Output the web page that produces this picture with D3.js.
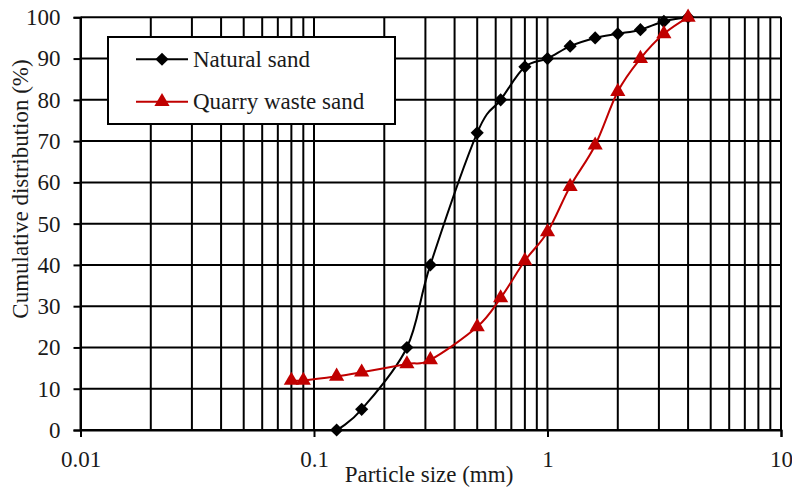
<!DOCTYPE html>
<html><head><meta charset="utf-8">
<script src="https://cdn.jsdelivr.net/npm/d3@7"></script>
<style>
html,body{margin:0;padding:0;background:#fff;}
svg{display:block;}
text{font-family:"Liberation Serif","Times New Roman",serif;fill:#1a1a1a;}
</style></head>
<body>
<script>
const naturalSize = [0.125,0.16,0.25,0.315,0.5,0.63,0.8,1,1.25,1.6,2,2.5,3.15,4];
const naturalPass = [0,5,20,40,72,80,88,90,93,95,96,97,99,100];
const quarrySize = [0.08,0.09,0.125,0.16,0.25,0.315,0.5,0.63,0.8,1,1.25,1.6,2,2.5,3.15,4];
const quarryPass = [12,12,13,14,16,17,25,32,41,48,59,69,82,90,96,100];
const xTickLabels = ["0.01","0.1","1","10"];
const xTickValues = [0.01,0.1,1,10];
const yTickValues = [0,10,20,30,40,50,60,70,80,90,100];
const seriesNames = ["Natural sand","Quarry waste sand"];

const W=792,H=488;
const m={l:80.5,r:11,t:17.3,b:58};
const FS=23;
const svg=d3.select("body").append("svg").attr("width",W).attr("height",H);
const x=d3.scaleLog().domain([0.01,10]).range([m.l,W-m.r]);
const y=d3.scaleLinear().domain([0,100]).range([430,m.t]);

// vertical gridlines (every minor log step)
const gridX=[];
for(let d=0.01; d<10; d*=10){ for(let k=1;k<=9;k++){ gridX.push(+(d*k).toPrecision(3)); } }
gridX.push(10);
svg.append("g").selectAll("line").data(gridX).join("line")
  .attr("x1",d=>x(d)).attr("x2",d=>x(d)).attr("y1",y(0)).attr("y2",y(100))
  .attr("stroke","#000").attr("stroke-width",2);
svg.append("g").selectAll("line").data(yTickValues).join("line")
  .attr("x1",x(0.01)).attr("x2",x(10)).attr("y1",d=>y(d)).attr("y2",d=>y(d))
  .attr("stroke","#000").attr("stroke-width",2);

// axes
const ya=svg.append("g").attr("transform",`translate(${x(0.01)},0)`)
  .call(d3.axisLeft(y).tickValues(yTickValues).tickSize(7).tickPadding(13));
ya.select(".domain").attr("stroke-width",2);
ya.selectAll(".tick line").attr("stroke-width",2);
ya.selectAll("text").attr("font-size",FS).attr("fill","#1a1a1a").attr("font-family","Liberation Serif");
const xa=svg.append("g").attr("transform",`translate(0,${y(0)})`)
  .call(d3.axisBottom(x).tickValues(xTickValues).tickFormat((d,i)=>xTickLabels[i]).tickSize(7).tickPadding(14));
xa.select(".domain").attr("stroke-width",2);
xa.selectAll(".tick line").attr("stroke-width",2);
xa.selectAll("text").attr("font-size",FS).attr("fill","#1a1a1a").attr("font-family","Liberation Serif");

svg.append("text").attr("x",429).attr("y",482).attr("text-anchor","middle")
  .attr("font-size",FS).text("Particle size (mm)");
svg.append("text").attr("transform",`translate(28,189) rotate(-90)`)
  .attr("text-anchor","middle").attr("font-size",FS).text("Cumulative distribution (%)");

const line=d3.line().x(d=>x(d[0])).y(d=>y(d[1])).curve(d3.curveCardinal.tension(0));
const nat=naturalSize.map((s,i)=>[s,naturalPass[i]]);
const qua=quarrySize.map((s,i)=>[s,quarryPass[i]]);
const red="#C00000";
svg.append("path").attr("d",line(nat)).attr("fill","none").attr("stroke","#000").attr("stroke-width",2);
svg.append("path").attr("d",line(qua)).attr("fill","none").attr("stroke",red).attr("stroke-width",2);
const diamond=d3.symbol().type(d3.symbolDiamond2).size(110);
const tri=d3.symbol().type(d3.symbolTriangle).size(100);
svg.append("g").selectAll("path").data(nat).join("path")
  .attr("transform",d=>`translate(${x(d[0])},${y(d[1])})`).attr("d",diamond).attr("fill","#000");
svg.append("g").selectAll("path").data(qua).join("path")
  .attr("transform",d=>`translate(${x(d[0])},${y(d[1])})`).attr("d",tri).attr("fill",red);

// legend
const lg=svg.append("g");
lg.append("rect").attr("x",108).attr("y",37).attr("width",287).attr("height",87)
  .attr("fill","#fff").attr("stroke","#000").attr("stroke-width",2);
const ly=[59.3,101.7];
lg.append("line").attr("x1",136).attr("x2",188).attr("y1",ly[0]).attr("y2",ly[0]).attr("stroke","#000").attr("stroke-width",2);
lg.append("path").attr("transform",`translate(162,${ly[0]})`).attr("d",diamond).attr("fill","#000");
lg.append("line").attr("x1",136).attr("x2",188).attr("y1",ly[1]).attr("y2",ly[1]).attr("stroke",red).attr("stroke-width",2);
lg.append("path").attr("transform",`translate(162,${ly[1]})`).attr("d",tri).attr("fill",red);
seriesNames.forEach((n,i)=>{
  lg.append("text").attr("x",193).attr("y",ly[i]+7.5).attr("font-size",FS).text(n);
});
</script>
</body></html>
